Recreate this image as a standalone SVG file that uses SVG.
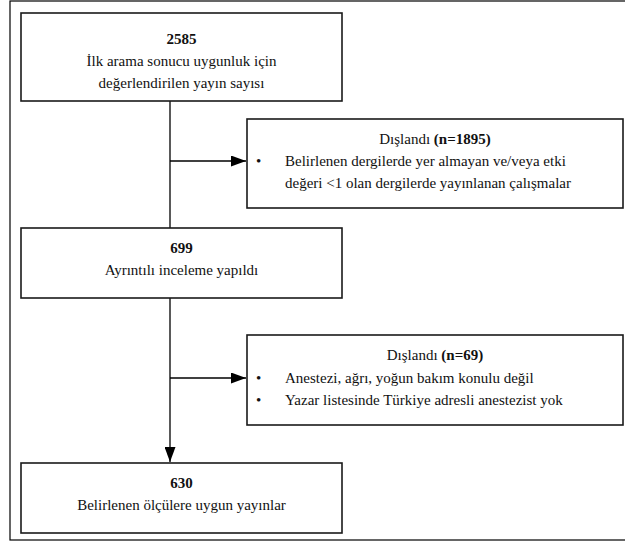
<svg xmlns="http://www.w3.org/2000/svg" width="625" height="541" viewBox="0 0 625 541">
<defs>
<marker id="ah" viewBox="0 0 15 11" refX="15" refY="5.5" markerWidth="15" markerHeight="11" markerUnits="userSpaceOnUse" orient="auto">
<path d="M0,0 L15,5.5 L0,11 z" fill="#000"/>
</marker>
<style>
.box{fill:#fff;stroke:#1a1a1a;stroke-width:1.6}
.frame{fill:none;stroke:#000;stroke-width:1.2}
.t{font-family:"Liberation Serif","Times New Roman",serif;font-size:15px;fill:#111}
.c{text-anchor:middle}
.b{font-weight:bold}
.ln{stroke:#000;stroke-width:1.3;fill:none}
</style>
</defs>
<rect class="frame" x="10" y="1" width="630" height="539"/>
<g id="connectors">
<line class="ln" x1="170" y1="101" x2="170" y2="228"/>
<line class="ln" x1="170" y1="161" x2="246" y2="161" marker-end="url(#ah)"/>
<line class="ln" x1="170" y1="298" x2="170" y2="462" marker-end="url(#ah)"/>
<line class="ln" x1="170" y1="378" x2="246" y2="378" marker-end="url(#ah)"/>
</g>
<g id="n2585">
<rect class="box" x="21" y="13" width="321" height="88"/>
<text class="t c b" x="181.5" y="44">2585</text>
<text class="t c" x="181.5" y="66">İlk arama sonucu uygunluk için</text>
<text class="t c" x="181.5" y="88">değerlendirilen yayın sayısı</text>
</g>
<g id="excl1">
<rect class="box" x="247" y="119" width="376" height="89"/>
<text class="t c" x="435" y="144">Dışlandı <tspan class="b">(n=1895)</tspan></text>
<text class="t" x="256" y="166">•</text>
<text class="t" x="285" y="166">Belirlenen dergilerde yer almayan ve/veya etki</text>
<text class="t" x="285" y="188">değeri &lt;1 olan dergilerde yayınlanan çalışmalar</text>
</g>
<g id="n699">
<rect class="box" x="21" y="228" width="321" height="70"/>
<text class="t c b" x="181.5" y="253">699</text>
<text class="t c" x="181.5" y="275">Ayrıntılı inceleme yapıldı</text>
</g>
<g id="excl2">
<rect class="box" x="247" y="335" width="376" height="90"/>
<text class="t c" x="435" y="360">Dışlandı <tspan class="b">(n=69)</tspan></text>
<text class="t" x="256" y="383">•</text>
<text class="t" x="285" y="383">Anestezi, ağrı, yoğun bakım konulu değil</text>
<text class="t" x="256" y="405">•</text>
<text class="t" x="285" y="405">Yazar listesinde Türkiye adresli anestezist yok</text>
</g>
<g id="n630">
<rect class="box" x="21" y="463" width="321" height="70"/>
<text class="t c b" x="181.5" y="488">630</text>
<text class="t c" x="181.5" y="510">Belirlenen ölçülere uygun yayınlar</text>
</g>
</svg>
